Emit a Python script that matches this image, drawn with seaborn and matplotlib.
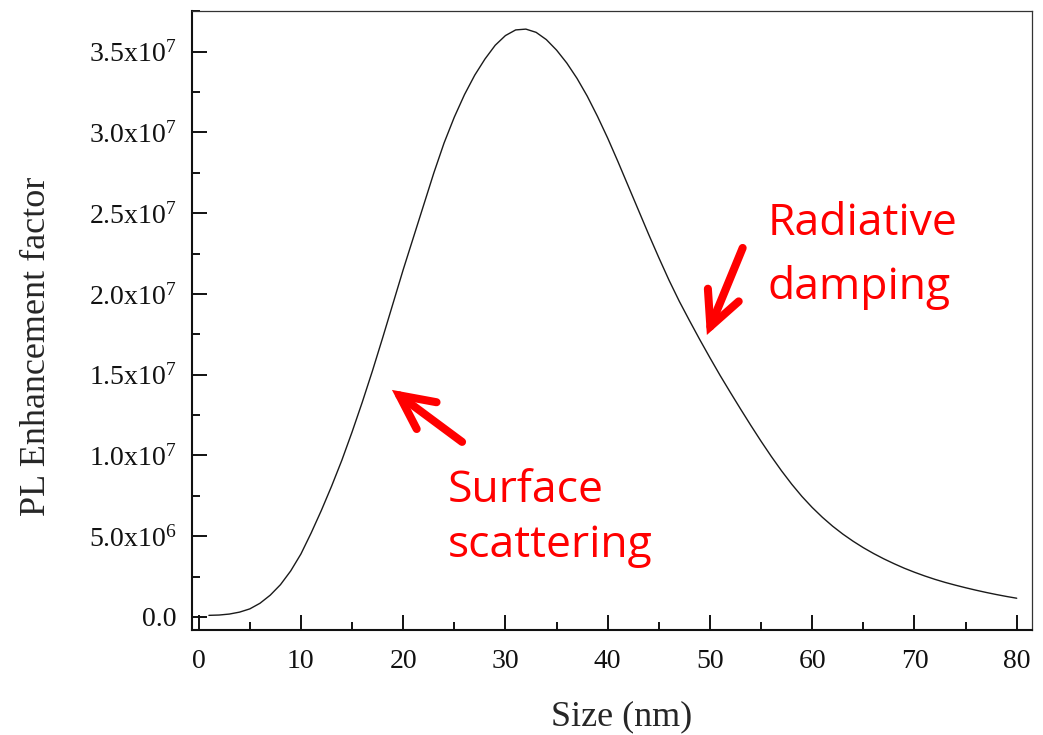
import numpy as np
import pandas as pd
import matplotlib
matplotlib.use("Agg")
import matplotlib.pyplot as plt
from matplotlib.ticker import MultipleLocator, FuncFormatter
import seaborn as sns

# Particle size (nm) and calculated PL enhancement factor
size_nm = list(range(1, 81))
enhancement_1e7 = [
    0.010, 0.012, 0.018, 0.030, 0.050, 0.085, 0.135, 0.200, 0.285, 0.390,
    0.520, 0.660, 0.810, 0.970, 1.145, 1.330, 1.525, 1.730, 1.940, 2.150,
    2.350, 2.550, 2.750, 2.935, 3.095, 3.235, 3.355, 3.455, 3.540, 3.600,
    3.635, 3.640, 3.620, 3.575, 3.510, 3.430, 3.335, 3.225, 3.100, 2.965,
    2.820, 2.670, 2.520, 2.370, 2.225, 2.085, 1.955, 1.835, 1.718, 1.605,
    1.495, 1.390, 1.287, 1.186, 1.088, 0.994, 0.905, 0.822, 0.746, 0.678,
    0.617, 0.562, 0.513, 0.469, 0.429, 0.393, 0.360, 0.330, 0.302, 0.277,
    0.254, 0.233, 0.214, 0.197, 0.181, 0.166, 0.152, 0.139, 0.127, 0.116,
]
enhancement = [v * 1e7 for v in enhancement_1e7]

x_label = "Size (nm)"
y_label = "PL Enhancement factor"
annot_radiative = ["Radiative", "damping"]
annot_surface = ["Surface", "scattering"]

df = pd.DataFrame({"size": size_nm, "enh": enhancement})

sns.set_theme(style="ticks")
plt.rcParams["font.family"] = ["Liberation Serif", "DejaVu Serif"]
plt.rcParams["mathtext.fontset"] = "custom"
plt.rcParams["mathtext.rm"] = "Liberation Serif"
plt.rcParams["mathtext.it"] = "Liberation Serif"

fig = plt.figure(figsize=(10.43, 7.35), dpi=100)
ax = fig.add_axes([0.1841, 0.1429, 0.8054, 0.8421])

sns.lineplot(data=df, x="size", y="enh", ax=ax, color="#1a1a1a", lw=1.0)

ax.set_xlim(-0.65, 81.5)
ax.set_ylim(-0.0805e7, 3.752e7)

ax.xaxis.set_major_locator(MultipleLocator(10))
ax.xaxis.set_minor_locator(MultipleLocator(5))
ax.yaxis.set_major_locator(MultipleLocator(0.5e7))
ax.yaxis.set_minor_locator(MultipleLocator(0.25e7))


def sci_label(v, pos):
    if abs(v) < 1:
        return "0.0"
    e = int(np.floor(np.log10(abs(v)) + 1e-9))
    m = v / 10 ** e
    return r"$\mathregular{%.1fx10^{%d}}$" % (m, e)


ax.yaxis.set_major_formatter(FuncFormatter(sci_label))

ax.tick_params(axis="both", which="both", direction="in", top=False, right=False,
               colors="#111111", width=1.4)
ax.tick_params(axis="both", which="major", length=11, labelsize=20)
ax.tick_params(axis="both", which="minor", length=6)
ax.tick_params(axis="y", which="major", pad=11)
ax.tick_params(axis="x", which="major", pad=14)

for side in ["left", "bottom"]:
    ax.spines[side].set_linewidth(1.5)
    ax.spines[side].set_color("#111111")
for side in ["top", "right"]:
    ax.spines[side].set_visible(True)
    ax.spines[side].set_linewidth(0.9)
    ax.spines[side].set_color("#333333")

ax.set_xlabel(x_label, fontsize=26)
ax.set_ylabel(y_label, fontsize=26)
ax.xaxis.set_label_coords(0.512, -0.114)
ax.yaxis.set_label_coords(-0.165, 0.459)

# Red annotations with arrows
red = "#ff0000"
annot_font = ["Open Sans", "DejaVu Sans"]
arrow_kw = dict(arrowstyle="->,head_length=2.45,head_width=1.2", color=red,
                lw=5.8, capstyle="round", joinstyle="miter", mutation_scale=10,
                shrinkA=0, shrinkB=0)

ax.annotate("", xy=(49.7, 1.746e7), xytext=(53.2, 2.285e7), arrowprops=arrow_kw)
ax.annotate("", xy=(18.9, 1.406e7), xytext=(25.76, 1.084e7), arrowprops=arrow_kw)

fs_annot = 32
ax.text(55.65, 2.365e7, annot_radiative[0], color=red, fontsize=fs_annot,
        family=annot_font, ha="left", va="baseline")
ax.text(55.65, 1.97e7, annot_radiative[1], color=red, fontsize=fs_annot,
        family=annot_font, ha="left", va="baseline")
ax.text(24.4, 0.714e7, annot_surface[0], color=red, fontsize=fs_annot,
        family=annot_font, ha="left", va="baseline")
ax.text(24.4, 0.373e7, annot_surface[1], color=red, fontsize=fs_annot,
        family=annot_font, ha="left", va="baseline")

fig.savefig("out.png", dpi=100, facecolor="white")
